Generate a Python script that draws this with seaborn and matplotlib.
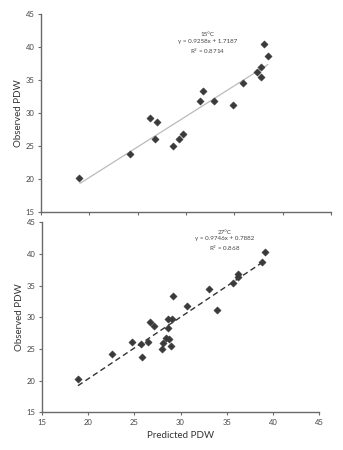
import matplotlib
matplotlib.use("Agg")
import matplotlib.pyplot as plt
import seaborn as sns
import numpy as np
import pandas as pd

sns.set_theme(style="white")
plt.rcParams['font.family'] = ['Lato', 'DejaVu Sans']

# 15°C panel
pred_15 = [18.93, 24.17, 26.31, 26.76, 27.03, 28.62, 29.31, 29.69, 31.41, 31.72,
           32.86, 34.83, 35.93, 37.31, 37.72, 37.79, 38.10, 38.48]
obs_15 = [20.2, 23.74, 29.29, 26.0, 28.69, 25.0, 26.11, 26.82, 31.77, 33.33,
          31.77, 31.21, 34.55, 36.26, 36.92, 35.5, 40.4, 38.69]
slope_15, icpt_15 = 0.9258, 1.7187
line_x_15 = [19.03, 38.48]

# 27°C panel
pred_27 = [18.89, 22.63, 24.76, 25.70, 25.88, 26.45, 26.74, 27.14, 28.0, 28.11,
           28.40, 28.68, 28.68, 28.72, 28.97, 29.08, 29.15, 30.66, 33.11, 33.94,
           35.71, 36.25, 36.28, 38.84, 39.13]
obs_27 = [20.21, 24.26, 26.1, 25.74, 23.68, 26.1, 29.26, 28.63, 25.0, 26.0,
          26.74, 29.79, 28.26, 26.58, 25.47, 29.68, 33.32, 31.79, 34.47, 31.21,
          35.47, 36.89, 36.32, 38.68, 40.37]
slope_27, icpt_27 = 0.9746, 0.7882
line_x_27 = [18.89, 38.95]

ticks = [15, 20, 25, 30, 35, 40, 45]

fig = plt.figure(figsize=(3.43, 4.5), dpi=100)
ax1 = fig.add_axes([41/343, 1-212/450, 290/343, 198/450])
ax2 = fig.add_axes([42/343, 1-412.3/450, 277/343, 190/450])

spine_col = '#6a6a6a'
mcol = '#3a3a3a'

def style(ax, show_xlabels):
    ax.set_xlim(15, 45)
    ax.set_ylim(15, 45)
    ax.set_xticks(ticks)
    ax.set_yticks(ticks)
    for s in ['top', 'right']:
        ax.spines[s].set_visible(False)
    for s in ['left', 'bottom']:
        ax.spines[s].set_color(spine_col)
        ax.spines[s].set_linewidth(1.0)
    ax.tick_params(axis='both', which='both', direction='out', length=2.5,
                   width=0.8, color=spine_col, labelsize=5.5, labelcolor='#444444',
                   pad=2, left=True, bottom=True)
    if not show_xlabels:
        ax.set_xticklabels([])
    ax.set_ylabel('Observed PDW', fontsize=7, color='#333333', labelpad=2)

df15 = pd.DataFrame({'pred': pred_15, 'obs': obs_15})
df27 = pd.DataFrame({'pred': pred_27, 'obs': obs_27})

lx15 = np.array(line_x_15)
ax1.plot(lx15, slope_15*lx15 + icpt_15, color='#bbbbbb', lw=0.9, zorder=1)
sns.scatterplot(data=df15, x='pred', y='obs', ax=ax1, marker='D', s=14,
                color=mcol, edgecolor=mcol, linewidth=0.3, zorder=3)
style(ax1, False)
ax1.set_xlabel('')
ax1.text(32.2, 40.45, '15°C\ny = 0.9258x + 1.7187\nR$^2$ = 0.8714', ha='center', va='center',
         fontsize=4.5, color='#444444', linespacing=1.35)

lx27 = np.array(line_x_27)
ax2.plot(lx27, slope_27*lx27 + icpt_27, color='#333333', lw=1.0, ls=(0, (4, 2.5)), zorder=1)
sns.scatterplot(data=df27, x='pred', y='obs', ax=ax2, marker='D', s=14,
                color=mcol, edgecolor=mcol, linewidth=0.3, zorder=3)
style(ax2, True)
ax2.set_xlabel('Predicted PDW', fontsize=7, color='#333333', labelpad=4)
ax2.text(34.8, 42.0, '27°C\ny = 0.9746x + 0.7882\nR$^2$ = 0.868', ha='center', va='center',
         fontsize=4.5, color='#444444', linespacing=1.35)

fig.savefig('out.png', dpi=100)
